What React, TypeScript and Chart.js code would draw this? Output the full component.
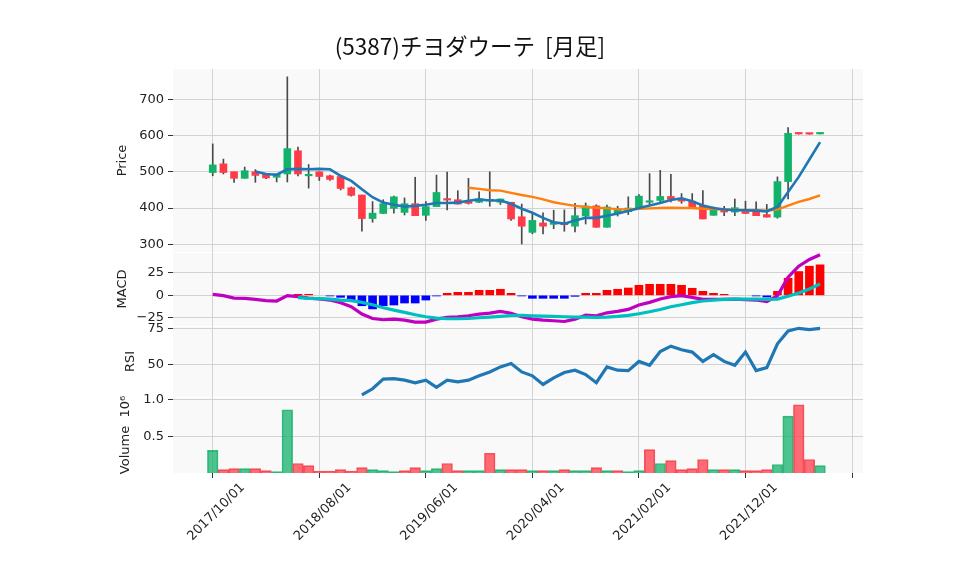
import React, { useEffect, useRef } from "react";
import { Chart, registerables } from "chart.js";
Chart.register(...registerables);

// ---- data (monthly, 2017/10 .. 2022/07) ----
const dates = [
  "2017/10/01","2017/11/01","2017/12/01","2018/01/01","2018/02/01","2018/03/01","2018/04/01","2018/05/01","2018/06/01","2018/07/01",
  "2018/08/01","2018/09/01","2018/10/01","2018/11/01","2018/12/01","2019/01/01","2019/02/01","2019/03/01","2019/04/01","2019/05/01",
  "2019/06/01","2019/07/01","2019/08/01","2019/09/01","2019/10/01","2019/11/01","2019/12/01","2020/01/01","2020/02/01","2020/03/01",
  "2020/04/01","2020/05/01","2020/06/01","2020/07/01","2020/08/01","2020/09/01","2020/10/01","2020/11/01","2020/12/01","2021/01/01",
  "2021/02/01","2021/03/01","2021/04/01","2021/05/01","2021/06/01","2021/07/01","2021/08/01","2021/09/01","2021/10/01","2021/11/01",
  "2021/12/01","2022/01/01","2022/02/01","2022/03/01","2022/04/01","2022/05/01","2022/06/01","2022/07/01",
];
const opens = [
  498, 522, 500, 482, 500, 494, 485, 494, 558, 489,
  500, 489, 487, 456, 436, 371, 385, 399, 388, 412,
  380, 404, 426, 423, 418, 416, 420, 416, 416, 376,
  333, 359, 355, 359, 350, 378, 406, 347, 385, 390,
  398, 416, 421, 432, 425, 419, 407, 380, 394, 389,
  396, 393, 382, 375, 473, 606, 605, 604.5,
];
const highs = [
  577, 535, 500, 513, 506, 495, 494, 762, 568, 520,
  500, 491, 489, 458, 436, 418, 423, 433, 428, 485,
  418, 491, 499, 448, 482, 445, 500, 425, 416, 411,
  385, 387, 394, 395, 413, 414, 409, 408, 405, 431,
  437, 495, 504, 493, 440, 440, 448, 403, 405, 425,
  419, 417, 410, 486, 622, 606, 605, 606,
];
const lows = [
  489, 494, 471, 482, 471, 481, 472, 472, 489, 455,
  476, 476, 450, 433, 336, 361, 385, 386, 381, 379,
  366, 404, 395, 411, 411, 415, 405, 410, 366, 301,
  329, 329, 343, 336, 334, 356, 347, 347, 378, 382,
  396, 410, 416, 417, 413, 403, 370, 380, 379, 379,
  385, 379, 375, 372, 425, 604, 603.5, 604.5,
];
const closes = [
  519, 498, 482, 503, 490, 483, 494, 564, 494, 493,
  487, 479, 454, 435, 371, 386, 412, 431, 412, 379,
  404, 443, 422, 411, 413, 425, 422, 425, 370, 350,
  366, 350, 361, 354, 379, 406, 347, 403, 398, 400,
  433, 420, 432, 424, 419, 403, 370, 396, 389, 401,
  385, 379, 375, 473, 606, 604.5, 604, 605.5,
];
const volumes = [
  310000, 46000, 60000, 60000, 60000, 32000, 18000, 866000, 130000, 100000,
  28000, 28000, 46000, 28000, 74000, 46000, 32000, 18000, 32000, 74000,
  32000, 60000, 130000, 32000, 32000, 32000, 270000, 46000, 46000, 46000,
  32000, 32000, 32000, 46000, 32000, 32000, 74000, 32000, 32000, 18000,
  32000, 320000, 130000, 170000, 46000, 60000, 185000, 46000, 46000, 46000,
  32000, 32000, 46000, 116000, 780000, 935000, 185000, 100000,
];
const ma5 = [
  null, null, null, null, 501, 494, 492, 507, 508, 507,
  508, 507, 489, 475, 452, 430, 415, 409, 404, 406,
  409, 414, 414, 415, 420, 424, 421, 421, 412, 398,
  387, 373, 361, 357, 366, 373, 373, 379, 385, 392,
  400, 407, 414, 422, 427, 419, 407, 400, 396, 394,
  394, 393, 391, 403, 444, 486, 534, 582,
];
const ma25 = [
  null, null, null, null, null, null, null, null, null, null,
  null, null, null, null, null, null, null, null, null, null,
  null, null, null, null, 456, 453, 449, 448, 442, 436,
  431, 424, 416, 411, 406, 403, 401, 399, 397, 396,
  398, 399, 400, 401, 400, 400, 398, 397, 396, 395,
  394, 394, 393, 396, 407, 417, 425, 435,
];
const macd = [
  1.1, -0.4, -3, -3.3, -4.4, -5.9, -6.3, -0.4, -1.5, -3,
  -4, -5.2, -8.1, -12.6, -20.7, -25.6, -27, -26.3, -27.4, -29.6,
  -29.6, -26.3, -24.4, -23.7, -22.6, -20.7, -19.6, -17.8, -19.8, -23.7,
  -26.3, -27.4, -28.1, -28.9, -26.3, -21.9, -22.6, -19.3, -17.8, -15.6,
  -10.7, -7.8, -4.1, -1.5, -0.4, -2.2, -4.4, -4.4, -4.4, -4.1,
  -4.8, -5.2, -7, -0.4, 20, 32.2, 39.6, 44.8,
];
const signal = [
  null, null, null, null, null, null, null, null, -2.6, -3.3,
  -3.7, -4.1, -5.2, -5.9, -7.8, -10.4, -13.7, -16.3, -18.9, -21.5,
  -23.7, -25.2, -25.9, -25.9, -25.6, -24.8, -24.1, -23.3, -22.3, -22.2,
  -22.6, -23, -23.3, -23.7, -24.1, -24.1, -24.4, -24.1, -23.3, -22.2,
  -20.4, -18.1, -15.6, -12.6, -10.4, -8.1, -6.3, -5.2, -4.4, -4.1,
  -4.1, -4.1, -4.4, -4.1, -1.1, 2.6, 7, 12.6,
];
const hist = [
  null, null, null, null, null, null, null, null, 1.1, 1.1,
  0, -0.7, -2.2, -6, -11.5, -15, -11.5, -10.7, -8.5, -8.5,
  -5.2, -0.7, 2.2, 3.3, 3.3, 5.5, 5.5, 6.7, 2.2, -0.7,
  -3.3, -3.3, -3.3, -3.3, -1.1, 2.2, 2.2, 5.5, 6.7, 8.1,
  11.1, 12.2, 12.2, 12.2, 11.1, 7.8, 4.4, 2.2, 1.1, 0,
  0, -0.7, -1.9, 4.4, 18.9, 26.3, 32.2, 33.7,
];
const rsi = [
  null, null, null, null, null, null, null, null, null, null,
  null, null, null, null, 28.7, 33, 39.7, 40.1, 39, 37.2,
  39, 34, 39, 37.8, 39, 42, 44.7, 48.2, 50.5, 44.7,
  42, 36, 40.6, 44.3, 45.9, 42.9, 37.2, 48.2, 45.9, 45.6,
  52, 49.3, 58.9, 62.6, 60.1, 58.5, 52, 56.7, 52, 49.3,
  58.5, 45.6, 47.7, 64.2, 73.2, 75, 74.1, 75,
];
const xTickIndex = [0, 10, 20, 30, 40, 50, 60];
const priceTicks = [300, 400, 500, 600, 700];
const macdTicks = [-25, 0, 25];
const rsiTicks = [50, 75];
const volumeTicks = [500000, 1000000];

const TITLE = "(5387)チヨダウーテ  [月足]";

const UP = "#13b26b";
const DOWN = "#ff3b47";
const VOL_UP = "rgba(19,178,107,0.75)";
const VOL_DOWN = "rgba(255,59,71,0.75)";
const GRID = "#d2d2d2";
const FONT = "DejaVu Sans";

export default function App() {
  const ref = useRef<HTMLCanvasElement>(null);

  useEffect(() => {
    const pts = (arr: (number | null)[]) => arr.map((v, i) => ({ x: i, y: v }));
    const bodyColors = closes.map((c, i) => (c >= opens[i] ? UP : DOWN));
    const volColors = closes.map((c, i) => (i === 0 || c > closes[i - 1] ? VOL_UP : VOL_DOWN));
    const volBorders = closes.map((c, i) => (i === 0 || c > closes[i - 1] ? "rgba(40,180,115,0.9)" : "rgba(240,70,80,0.9)"));
    const histData = hist.map((v, i) => ({ x: i, y: v === null || v === 0 ? null : v }));
    const histColors = hist.map((v) => ((v ?? 0) >= 0 ? "#ff0000" : "#0000ff"));

    const yAxis = (
      min: number, max: number, ticks: number[], weight: number,
      title: string, titlePad: number, fmt: (v: number) => string
    ) => ({
      type: "linear" as const,
      position: "left" as const,
      stack: "panels",
      stackWeight: weight,
      min, max,
      border: { display: false },
      grid: { color: GRID, lineWidth: 1, tickColor: "#333", tickLength: 5, drawTicks: true },
      ticks: {
        font: { family: FONT, size: 13 }, color: "#222", padding: 4, autoSkip: false,
        callback: (v: any) => fmt(Number(v)),
      },
      afterBuildTicks: (s: any) => { s.ticks = ticks.map((v) => ({ value: v })); },
      afterFit: (s: any) => { s.width = 173; },
      title: {
        display: true, text: title, color: "#222",
        font: { family: FONT, size: 13 }, padding: { top: titlePad, bottom: 0 },
      },
    });

    const bgPlugin = {
      id: "panelBg",
      beforeDraw(chart: any) {
        const { ctx, chartArea } = chart;
        ctx.save();
        ["yPrice", "yMacd", "yRsi", "yVol"].forEach((id, k) => {
          const s = chart.scales[id];
          const top = k === 0 ? s.top : s.top + 1;
          ctx.fillStyle = "#f9f9f9";
          ctx.fillRect(chartArea.left, top, chartArea.right - chartArea.left, s.bottom - top);
        });
        ctx.restore();
      },
    };

    const chart = new Chart(ref.current!, {
      type: "bar",
      data: {
        datasets: [
          { type: "line", label: "MA5", data: pts(ma5) as any, yAxisID: "yPrice", borderColor: "#1f77b4", borderWidth: 2.6, pointRadius: 0, order: 0 },
          { type: "line", label: "MA25", data: pts(ma25) as any, yAxisID: "yPrice", borderColor: "#ff7f0e", borderWidth: 2.4, pointRadius: 0, order: 0 },
          { type: "bar", label: "body", data: closes.map((c, i) => ({ x: i, y: [opens[i], c] })) as any, yAxisID: "yPrice", backgroundColor: bodyColors, borderWidth: 0, barThickness: 7, grouped: false, minBarLength: 1.5, order: 1 },
          { type: "bar", label: "wick", data: lows.map((l, i) => ({ x: i, y: [l, highs[i]] })) as any, yAxisID: "yPrice", backgroundColor: "#4a4a4a", borderWidth: 0, barThickness: 1, grouped: false, order: 2 },
          { type: "line", label: "Signal", data: pts(signal) as any, yAxisID: "yMacd", borderColor: "#00bfbf", borderWidth: 3.2, pointRadius: 0, order: 0 },
          { type: "line", label: "MACD", data: pts(macd) as any, yAxisID: "yMacd", borderColor: "#bf00bf", borderWidth: 3.2, pointRadius: 0, order: 0 },
          { type: "bar", label: "Hist", data: histData as any, yAxisID: "yMacd", backgroundColor: histColors, borderWidth: 0, barThickness: 8, grouped: false, order: 3 },
          { type: "line", label: "RSI", data: pts(rsi) as any, yAxisID: "yRsi", borderColor: "#1f77b4", borderWidth: 3.2, pointRadius: 0, order: 0 },
          { type: "bar", label: "Volume", data: volumes.map((v, i) => ({ x: i, y: v })) as any, yAxisID: "yVol", backgroundColor: volColors, borderColor: volBorders, borderWidth: 1, barThickness: 10.6, grouped: false, order: 4 },
        ],
      },
      options: {
        animation: false,
        responsive: false,
        events: [],
        layout: { padding: { left: 0, right: 95, top: 69, bottom: 22 } },
        plugins: { legend: { display: false }, tooltip: { enabled: false }, title: { display: false } },
        scales: {
          x: {
            type: "linear",
            position: "bottom",
            offset: false,
            min: -3.73,
            max: 61.03,
            border: { display: false },
            grid: { offset: false, color: GRID, lineWidth: 1, tickColor: "#333", tickLength: 5 },
            afterBuildTicks: (s: any) => { s.ticks = xTickIndex.map((v) => ({ value: v })); },
            afterFit: (s: any) => { s.height = 80; },
            ticks: {
              autoSkip: false, minRotation: 45, maxRotation: 45, labelOffset: 30, padding: 2,
              font: { family: FONT, size: 13 }, color: "#222",
              callback: (v: any) => dates[Number(v)] ?? "",
            },
          },
          yVol: yAxis(0, 1041000, volumeTicks, 76, "Volume  10\u2076", 118, (v) => (v / 1e6).toFixed(1)),
          yRsi: yAxis(27.3, 76.6, rsiTicks, 71, "RSI", 123, (v) => String(v)),
          yMacd: yAxis(-33.9, 47.9, macdTicks, 74, "MACD", 115, (v) => (v < 0 ? "\u2212" + Math.abs(v) : String(v))),
          yPrice: yAxis(278.8, 783.6, priceTicks, 183, "Price", 115, (v) => String(v)),
        } as any,
      },
      plugins: [bgPlugin],
    });
    return () => chart.destroy();
  }, []);

  return (
    <div style={{ position: "absolute", left: 0, top: 0, width: 958, height: 575, background: "#fff" }}>
      <canvas ref={ref} width={958} height={575} style={{ position: "absolute", left: 0, top: 0 }} />
      <div
        style={{
          position: "absolute", left: 0, top: 31, width: 940, textAlign: "center",
          fontFamily: '"Noto Sans CJK JP", sans-serif', fontSize: 22.5, lineHeight: "28px",
          color: "#111", whiteSpace: "pre",
        }}
      >
        {TITLE}
      </div>
    </div>
  );
}
